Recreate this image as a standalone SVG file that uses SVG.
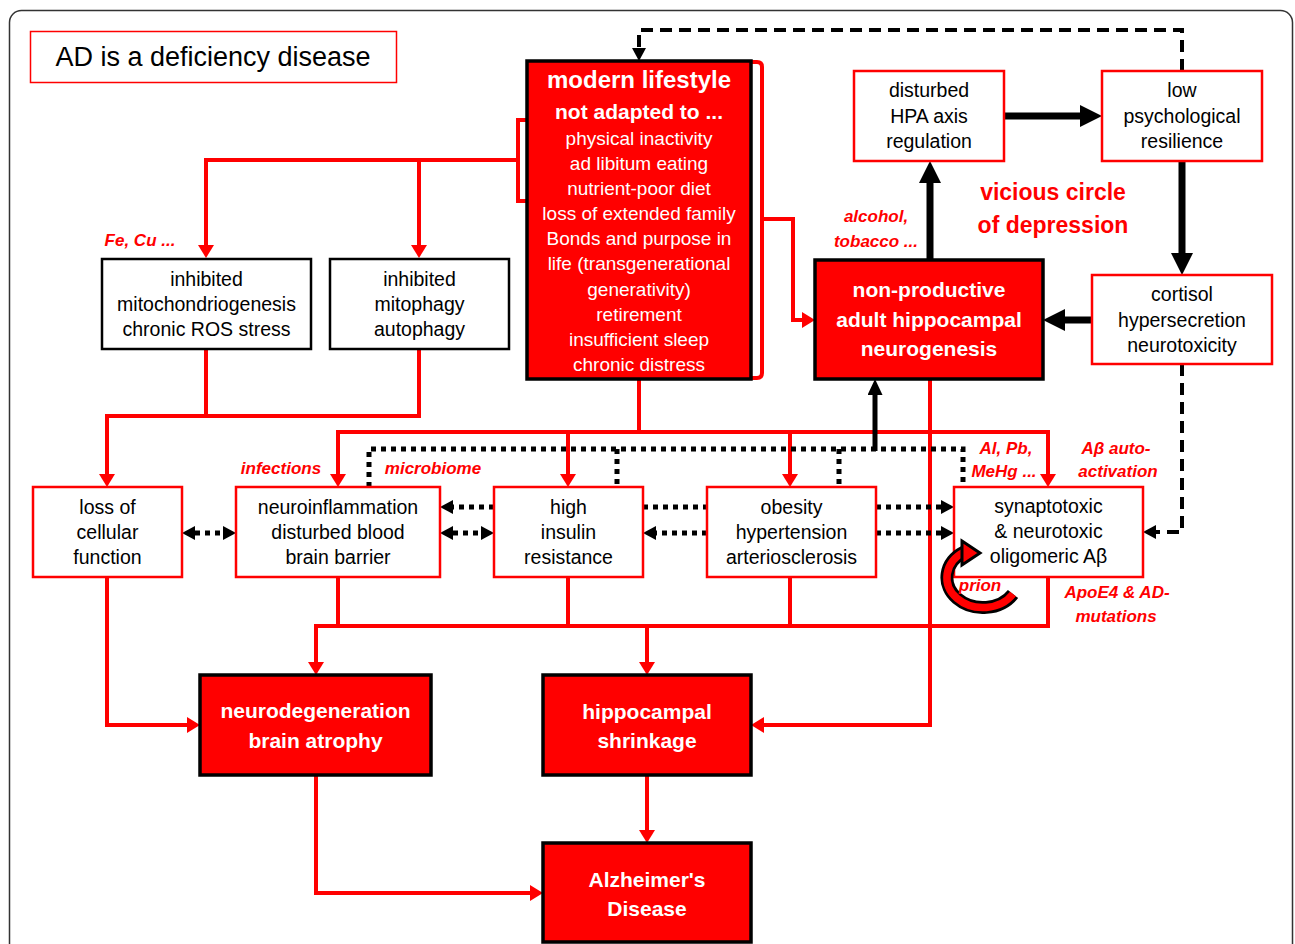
<svg xmlns="http://www.w3.org/2000/svg" width="1295" height="944" viewBox="0 0 1295 944">
<defs>
<style>
text{font-family:"Liberation Sans",Arial,sans-serif;text-anchor:middle}
.nt{font-size:19.5px;fill:#000}
.wb{font-size:21px;font-weight:bold;fill:#fff}
.ml{font-size:19px;fill:#fff}
.lbl{font-size:17px;font-weight:bold;font-style:italic;fill:#f00}
.rbox{fill:#fff;stroke:#f00;stroke-width:2.5}
.kbox{fill:#fff;stroke:#000;stroke-width:2.5}
.fbox{fill:#f00;stroke:#000;stroke-width:3.5}
.red{fill:none;stroke:#f00;stroke-width:4}
.thick{fill:none;stroke:#000;stroke-width:7}
.dash{fill:none;stroke:#000;stroke-width:4;stroke-dasharray:12 7}
.dot{fill:none;stroke:#000;stroke-width:5;stroke-dasharray:5 5}
</style>
<marker id="ar" markerUnits="userSpaceOnUse" markerWidth="13" markerHeight="16" viewBox="0 0 13 16" refX="0" refY="8" orient="auto"><path d="M0,0 L13,8 L0,16 Z" fill="#f00"/></marker>
<marker id="ab" markerUnits="userSpaceOnUse" markerWidth="22" markerHeight="22" viewBox="0 0 22 22" refX="0" refY="11" orient="auto"><path d="M0,0 L22,11 L0,22 Z" fill="#000"/></marker>
<marker id="as" markerUnits="userSpaceOnUse" markerWidth="13" markerHeight="14" viewBox="0 0 13 14" refX="0" refY="7" orient="auto-start-reverse"><path d="M0,0 L13,7 L0,14 Z" fill="#000"/></marker>
<marker id="am" markerUnits="userSpaceOnUse" markerWidth="16" markerHeight="15" viewBox="0 0 16 15" refX="0" refY="7.5" orient="auto"><path d="M0,0 L16,7.5 L0,15 Z" fill="#000"/></marker>
</defs>
<rect x="9.5" y="10.5" width="1283" height="960" rx="12" fill="#fff" stroke="#333" stroke-width="1.5"/>

<g id="connectors">
<path class="red" d="M527,120 H518 V201 H527"/>
<path class="red" d="M518,160 H206 V245" marker-end="url(#ar)"/>
<path class="red" d="M419,160 V245" marker-end="url(#ar)"/>
<path class="red" d="M751,62 H757 Q762,62 762,67 V373 Q762,378 757,378 H751"/>
<path class="red" d="M762,219 H793 V320 H802" marker-end="url(#ar)"/>
<path class="red" d="M206,349 V416"/>
<path class="red" d="M419,349 V416 H107 V474" marker-end="url(#ar)"/>
<path class="red" d="M639,379 V432"/>
<path class="red" d="M338,474 V432 H1048 V474" marker-end="url(#ar)"/>
<path class="red" d="M338,432 V474" marker-end="url(#ar)"/>
<path class="red" d="M568,432 V474" marker-end="url(#ar)"/>
<path class="red" d="M790,432 V474" marker-end="url(#ar)"/>
<path class="red" d="M930,379 V725 H764" marker-end="url(#ar)"/>
<path class="red" d="M107,577 V725 H187" marker-end="url(#ar)"/>
<path class="red" d="M338,577 V626"/>
<path class="red" d="M568,577 V626"/>
<path class="red" d="M790,577 V626"/>
<path class="red" d="M1048,577 V626 H316 V662" marker-end="url(#ar)"/>
<path class="red" d="M647,626 V662" marker-end="url(#ar)"/>
<path class="red" d="M647,775 V830" marker-end="url(#ar)"/>
<path class="red" d="M316,775 V893 H530" marker-end="url(#ar)"/>

<path class="thick" d="M1004,116 H1080" marker-end="url(#ab)"/>
<path class="thick" d="M1182,161 V253" marker-end="url(#ab)"/>
<path class="thick" d="M1092,320 H1065" marker-end="url(#ab)"/>
<path class="thick" d="M930,260 V183" marker-end="url(#ab)"/>

<path class="dash" d="M1182,71 V30 H639 V48" marker-end="url(#as)"/>
<path class="dash" d="M1182,364 V532 H1156" marker-end="url(#as)"/>

<path class="dot" d="M369,487 V449 H963 V487"/>
<path class="dot" d="M617,449 V487"/>
<path class="dot" d="M839,449 V487"/>
<path class="dot" d="M195,533 H223" marker-start="url(#as)" marker-end="url(#as)"/>
<path class="dot" d="M453,533 H481" marker-start="url(#as)" marker-end="url(#as)"/>
<path class="dot" d="M707,533 H656" marker-end="url(#as)"/>
<path class="dot" d="M876,533 H941" marker-end="url(#as)"/>
<path class="dot" d="M494,507 H453" marker-end="url(#as)"/>
<path class="dot" d="M643,507 H707"/>
<path class="dot" d="M876,507 H941" marker-end="url(#as)"/>
<path fill="none" stroke="#000" stroke-width="5" d="M875,451 V395" marker-end="url(#am)"/>
</g>

<g id="title">
<rect x="30.5" y="31.5" width="366" height="51" fill="#fff" stroke="#f00" stroke-width="1.5"/>
<text x="213" y="66" style="font-size:27px;fill:#000">AD is a deficiency disease</text>
</g>

<g id="modern-lifestyle">
<rect class="fbox" x="527" y="61" width="224" height="318"/>
<text x="639" y="88" style="font-size:24px;font-weight:bold;fill:#fff">modern lifestyle</text>
<text x="639" y="119" class="wb">not adapted to ...</text>
<text x="639" y="145" class="ml">physical inactivity</text>
<text x="639" y="170" class="ml">ad libitum eating</text>
<text x="639" y="195" class="ml">nutrient-poor diet</text>
<text x="639" y="220" class="ml">loss of extended family</text>
<text x="639" y="245" class="ml">Bonds and purpose in</text>
<text x="639" y="270" class="ml">life (transgenerational</text>
<text x="639" y="296" class="ml">generativity)</text>
<text x="639" y="321" class="ml">retirement</text>
<text x="639" y="346" class="ml">insufficient sleep</text>
<text x="639" y="371" class="ml">chronic distress</text>
</g>

<g id="hpa">
<rect class="rbox" x="854" y="71" width="150" height="90"/>
<text x="929" y="97" class="nt">disturbed</text>
<text x="929" y="123" class="nt">HPA axis</text>
<text x="929" y="148" class="nt">regulation</text>
</g>

<g id="resilience">
<rect class="rbox" x="1102" y="71" width="160" height="90"/>
<text x="1182" y="97" class="nt">low</text>
<text x="1182" y="123" class="nt">psychological</text>
<text x="1182" y="148" class="nt">resilience</text>
</g>

<g id="cortisol">
<rect class="rbox" x="1092" y="275" width="180" height="89"/>
<text x="1182" y="301" class="nt">cortisol</text>
<text x="1182" y="327" class="nt">hypersecretion</text>
<text x="1182" y="352" class="nt">neurotoxicity</text>
</g>

<g id="neurogenesis">
<rect class="fbox" x="815" y="260" width="228" height="119"/>
<text x="929" y="297" class="wb">non-productive</text>
<text x="929" y="327" class="wb">adult hippocampal</text>
<text x="929" y="356" class="wb">neurogenesis</text>
</g>

<g id="mitochondriogenesis">
<rect class="kbox" x="102" y="259" width="209" height="90"/>
<text x="206.5" y="286" class="nt">inhibited</text>
<text x="206.5" y="311" class="nt">mitochondriogenesis</text>
<text x="206.5" y="336" class="nt">chronic ROS stress</text>
</g>

<g id="mitophagy">
<rect class="kbox" x="330" y="259" width="179" height="90"/>
<text x="419.5" y="286" class="nt">inhibited</text>
<text x="419.5" y="311" class="nt">mitophagy</text>
<text x="419.5" y="336" class="nt">autophagy</text>
</g>

<g id="cellular">
<rect class="rbox" x="33" y="487" width="149" height="90"/>
<text x="107.5" y="514" class="nt">loss of</text>
<text x="107.5" y="539" class="nt">cellular</text>
<text x="107.5" y="564" class="nt">function</text>
</g>

<g id="neuroinflammation">
<rect class="rbox" x="236" y="487" width="204" height="90"/>
<text x="338" y="514" class="nt">neuroinflammation</text>
<text x="338" y="539" class="nt">disturbed blood</text>
<text x="338" y="564" class="nt">brain barrier</text>
</g>

<g id="insulin">
<rect class="rbox" x="494" y="487" width="149" height="90"/>
<text x="568.5" y="514" class="nt">high</text>
<text x="568.5" y="539" class="nt">insulin</text>
<text x="568.5" y="564" class="nt">resistance</text>
</g>

<g id="obesity">
<rect class="rbox" x="707" y="487" width="169" height="90"/>
<text x="791.5" y="514" class="nt">obesity</text>
<text x="791.5" y="539" class="nt">hypertension</text>
<text x="791.5" y="564" class="nt">arteriosclerosis</text>
</g>

<g id="abeta">
<rect class="rbox" x="954" y="487" width="189" height="90"/>
<text x="1048.5" y="513" class="nt">synaptotoxic</text>
<text x="1048.5" y="538" class="nt">&amp; neurotoxic</text>
<text x="1048.5" y="563" class="nt">oligomeric Aβ</text>
</g>

<g id="prion-loop">
<path d="M1013,594 A36,30 0 1 1 964,552" fill="none" stroke="#000" stroke-width="13"/>
<path d="M1013,594 A36,30 0 1 1 964,552" fill="none" stroke="#f00" stroke-width="7.5"/>
<path d="M962,541 L980,553 L962,565 Z" fill="#f00" stroke="#000" stroke-width="3" stroke-linejoin="miter"/>
</g>

<g id="neurodegeneration">
<rect class="fbox" x="200" y="675" width="231" height="100"/>
<text x="315.5" y="718" class="wb">neurodegeneration</text>
<text x="315.5" y="748" class="wb">brain atrophy</text>
</g>

<g id="shrinkage">
<rect class="fbox" x="543" y="675" width="208" height="100"/>
<text x="647" y="719" class="wb">hippocampal</text>
<text x="647" y="748" class="wb">shrinkage</text>
</g>

<g id="alzheimers">
<rect class="fbox" x="543" y="843" width="208" height="99"/>
<text x="647" y="887" class="wb">Alzheimer's</text>
<text x="647" y="916" class="wb">Disease</text>
</g>

<g id="labels">
<text x="1053" y="200" style="font-size:23px;font-weight:bold;fill:#f00">vicious circle</text>
<text x="1053" y="233" style="font-size:23px;font-weight:bold;fill:#f00">of depression</text>
<text x="876" y="222" class="lbl">alcohol,</text>
<text x="876" y="247" class="lbl">tobacco ...</text>
<text x="140" y="246" class="lbl">Fe, Cu ...</text>
<text x="281" y="474" class="lbl">infections</text>
<text x="433" y="474" class="lbl">microbiome</text>
<text x="1006" y="454" class="lbl">Al, Pb,</text>
<text x="1004" y="477" class="lbl">MeHg ...</text>
<text x="1116" y="454" class="lbl">Aβ auto-</text>
<text x="1118" y="477" class="lbl">activation</text>
<text x="1117" y="598" class="lbl">ApoE4 &amp; AD-</text>
<text x="1116" y="622" class="lbl">mutations</text>
<text x="980" y="591" class="lbl">prion</text>
</g>
</svg>
